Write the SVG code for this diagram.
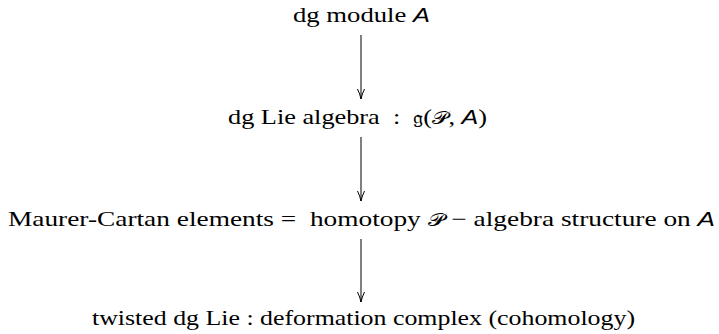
<svg xmlns="http://www.w3.org/2000/svg" width="719" height="334" viewBox="0 0 719 334">
<style>
text{font-family:"Liberation Serif","DejaVu Serif",serif;font-size:21px;fill:#000;white-space:pre}
.m{font-family:"Liberation Sans","DejaVu Sans",sans-serif;font-style:italic;font-size:20px}
.x{font-family:"DejaVu Sans","DejaVu Serif",serif;font-size:18px}
.c{stroke:#000;stroke-width:1;fill:none}
</style>
<rect width="719" height="334" fill="#fff"/>
<g id="connectors">
<line class="c" x1="361" y1="35" x2="361" y2="99"/>
<line class="c" x1="361" y1="137" x2="361" y2="201"/>
<line class="c" x1="361" y1="239" x2="361" y2="302"/>
<path class="c" d="M357.5,89 Q360,94 361,99 Q362,94 364.5,89"/>
<path class="c" d="M357.5,191 Q360,196 361,201 Q362,196 364.5,191"/>
<path class="c" d="M357.5,292 Q360,297 361,302 Q362,297 364.5,292"/>
</g>
<g id="n1"><text x="293" y="22" textLength="137" lengthAdjust="spacingAndGlyphs" xml:space="preserve">dg module <tspan class="m">A</tspan></text></g>
<g id="n2"><text x="228" y="124" textLength="259" lengthAdjust="spacingAndGlyphs" xml:space="preserve">dg Lie algebra  :  <tspan class="x">𝔤</tspan>(<tspan class="x">𝒫</tspan>, <tspan class="m">A</tspan>)</text></g>
<g id="n3"><text x="8" y="226" textLength="707" lengthAdjust="spacingAndGlyphs" xml:space="preserve">Maurer-Cartan elements =  homotopy <tspan class="x">𝒫</tspan> − algebra structure on <tspan class="m">A</tspan></text></g>
<g id="n4"><text x="92" y="325" textLength="543" lengthAdjust="spacingAndGlyphs">twisted dg Lie : deformation complex (cohomology)</text></g>
</svg>
